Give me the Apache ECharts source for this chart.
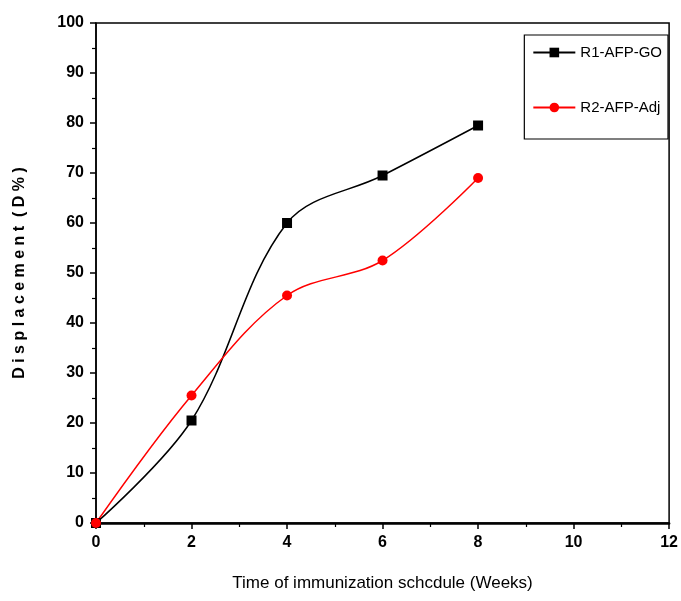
<!DOCTYPE html>
<html>
<head>
<meta charset="utf-8">
<script src="https://cdn.jsdelivr.net/npm/echarts@6/dist/echarts.min.js"></script>
<style>
  html, body { margin: 0; padding: 0; background: #fff; }
  #chart { width: 681px; height: 601px; }
</style>
</head>
<body>
<div id="chart"></div>
<script>
// 数据
const weeks = [0, 2, 4, 6, 8];
const goValues = [0, 20.5, 60, 69.5, 79.5];
const adjValues = [0, 25.5, 45.5, 52.5, 69];
const seriesNames = ['R1-AFP-GO', 'R2-AFP-Adj'];

const labelFont = '"Liberation Sans Narrow", "Arial Narrow", "Liberation Sans", sans-serif';

const chart = echarts.init(document.getElementById('chart'), null, { renderer: 'canvas' });

const axisCommon = {
  axisLine: { show: true, lineStyle: { color: '#000', width: 1.5 } },
  axisTick: { show: true, inside: false, length: 6, lineStyle: { color: '#000', width: 1.5 } },
  minorTick: { show: true, splitNumber: 2, length: 4, lineStyle: { color: '#000', width: 1.2 } },
  splitLine: { show: false },
  axisLabel: { color: '#000', fontFamily: labelFont, fontSize: 16, fontWeight: 'bold' },
};

const option = {
  animation: false,
  grid: {
    left: 96,
    right: 11,
    top: 23,
    bottom: 78,
    show: true,
    borderColor: '#000',
    borderWidth: 1.5,
  },
  legend: {
    orient: 'vertical',
    right: 13,
    top: 35,
    padding: [10, 6, 24, 8],
    itemGap: 40,
    itemWidth: 42,
    itemHeight: 12,
    borderColor: '#000',
    borderWidth: 1.2,
    textStyle: { color: '#000', fontFamily: labelFont, fontSize: 15 },
    data: seriesNames,
  },
  xAxis: Object.assign({}, axisCommon, {
    type: 'value',
    min: 0,
    max: 12,
    interval: 2,
    axisLine: { show: true, onZero: false, lineStyle: { color: '#000', width: 2.5 } },
    axisLabel: Object.assign({}, axisCommon.axisLabel, { margin: 12 }),
    name: 'Time of immunization schcdule (Weeks)',
    nameLocation: 'middle',
    nameGap: 52,
    nameTextStyle: { color: '#000', fontFamily: labelFont, fontSize: 17 },
  }),
  yAxis: Object.assign({}, axisCommon, {
    type: 'value',
    min: 0,
    max: 100,
    interval: 10,
    axisLabel: Object.assign({}, axisCommon.axisLabel, { margin: 12 }),
    name: 'D i s p l a c e m e n t  ( D % )',
    nameLocation: 'middle',
    nameGap: 68,
    nameTextStyle: { color: '#000', fontFamily: 'Liberation Sans, Arial, sans-serif', fontSize: 16, fontWeight: 'bold' },
  }),
  series: [
    {
      name: seriesNames[0],
      type: 'line',
      smooth: 0.35,
      data: weeks.map((w, i) => [w, goValues[i]]),
      symbol: 'rect',
      symbolSize: 10,
      itemStyle: { color: '#000' },
      lineStyle: { color: '#000', width: 1.5 },
    },
    {
      name: seriesNames[1],
      type: 'line',
      smooth: 0.35,
      data: weeks.map((w, i) => [w, adjValues[i]]),
      symbol: 'circle',
      symbolSize: 10,
      itemStyle: { color: '#ff0000' },
      lineStyle: { color: '#ff0000', width: 1.5 },
    },
  ],
};

chart.setOption(option);
</script>
</body>
</html>
